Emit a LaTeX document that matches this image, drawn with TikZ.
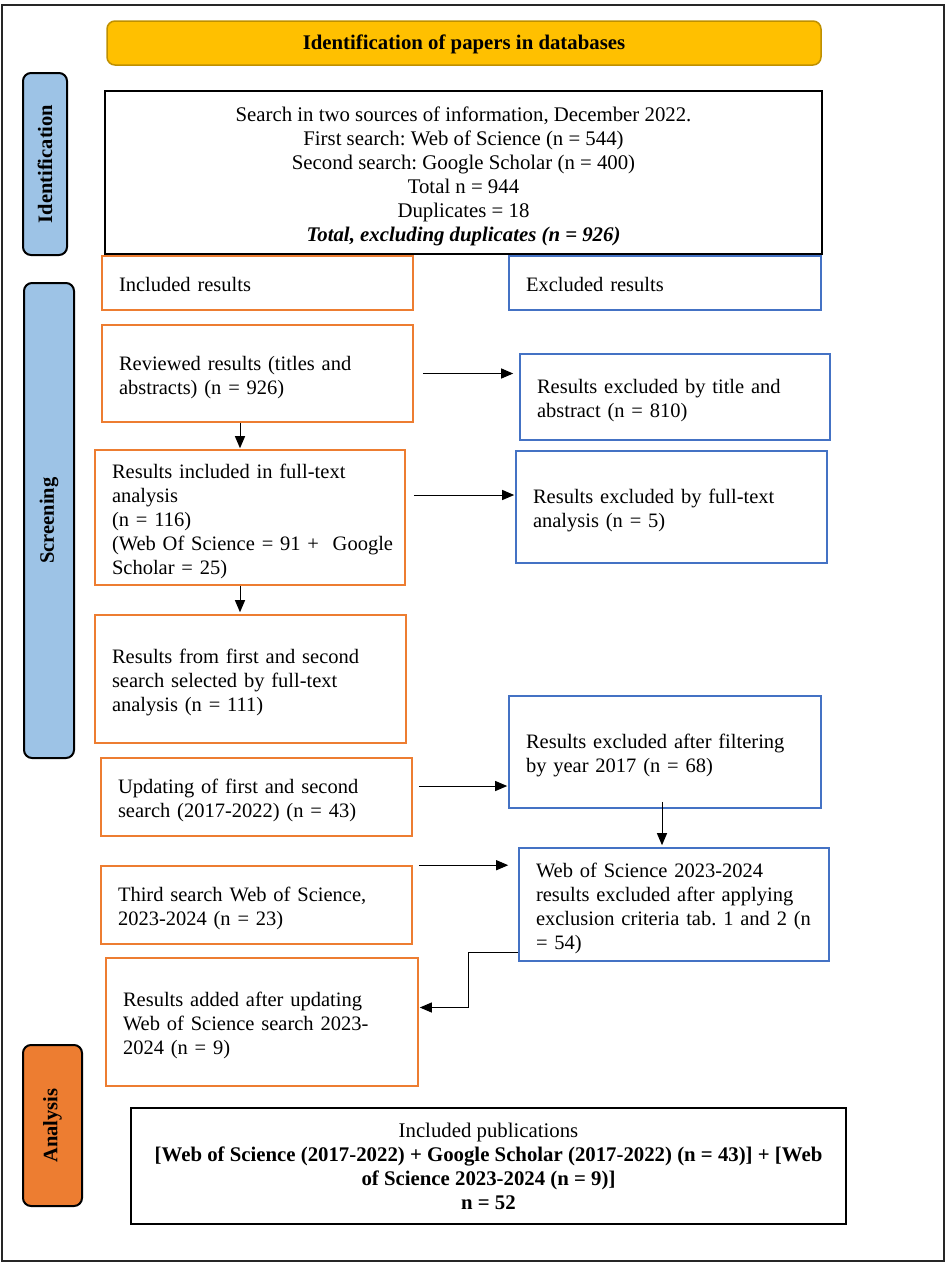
\documentclass[tikz,border=0pt]{standalone}
\usepackage{fontspec}
\setmainfont{Liberation Serif}
\frenchspacing
\usetikzlibrary{arrows.meta}
\definecolor{orng}{HTML}{ED7D31}
\definecolor{blu}{HTML}{4472C4}
\definecolor{lblue}{HTML}{9DC3E6}
\definecolor{hdr}{HTML}{FFC000}
\definecolor{hdrb}{HTML}{BF9000}
\newcommand\bodyfnt{\fontsize{20.8}{24}\selectfont}
\newcommand\boxfnt{\fontsize{20.5}{24}\selectfont}
\newcommand\labfnt{\fontsize{20.5}{24}\selectfont\bfseries}
\newcommand\topstrut{\rule{0pt}{23pt}}
\newcommand\botstrut{\rule[-5pt]{0pt}{5pt}}
\tikzset{
  struts/.style={execute at begin node={\rule{0pt}{22pt}}, execute at end node={\rule[-5pt]{0pt}{0pt}}},
  obox/.style={draw=orng, line width=1.6pt, inner xsep=17pt, inner ysep=0pt, align=left, font=\boxfnt, struts},
  bbox/.style={draw=blu, line width=1.6pt, inner xsep=17pt, inner ysep=0pt, align=left, font=\boxfnt, struts},
  kbox/.style={draw=black, line width=2pt, inner sep=0pt, align=center, font=\bodyfnt},
  sidelab/.style={draw=black, line width=2pt, rounded corners=8pt, rotate=90, inner sep=0pt, font=\labfnt},
  arr/.style={draw=black, line width=1pt, -{Triangle[length=12pt,width=10pt]}},
}
\begin{document}
\begin{tikzpicture}[x=1pt,y=-1pt]
\useasboundingbox (0,0) rectangle (952,1264);
\draw[line width=2pt, draw=black!85] (2,5) rectangle (944,1261);

\node[draw=hdrb, fill=hdr, line width=1.5pt, rounded corners=8pt, minimum width=714pt, minimum height=44pt, inner sep=0pt, text height=18.4pt, text depth=4.5pt, font=\bodyfnt\bfseries] (hdr) at (464,43) {Identification of papers in databases};

\node[sidelab, fill=lblue, minimum width=182pt, minimum height=44pt] (idlab) at (45,164) {Identification};
\node[sidelab, fill=lblue, minimum width=475pt, minimum height=50pt] (scrlab) at (49,520.5) {Screening};
\node[sidelab, fill=orng, minimum width=161pt, minimum height=59pt] (anlab) at (52.5,1125.5) {Analysis};

\node[kbox, minimum width=717pt, minimum height=163pt] (search) at (463.5,172.5) {\topstrut Search in two sources of information, December 2022.\\ First search: Web of Science (n = 544)\\ Second search: Google Scholar (n = 400)\\ Total n = 944\\ Duplicates = 18\\ \textbf{\textit{Total, excluding duplicates (n = 926)}}\botstrut};

\node[obox, text width=277pt, minimum height=54pt] (incl) at (257.5,283) {Included results};
\node[bbox, text width=278pt, minimum height=54pt] (excl) at (665,283) {Excluded results};

\node[obox, text width=277pt, minimum height=97pt] (rev) at (257.5,373.5) {Reviewed results (titles and\\ abstracts) (n = 926)};
\node[bbox, text width=276pt, minimum height=86pt] (exT) at (675,397) {Results excluded by title and\\ abstract (n = 810)};

\node[obox, text width=276pt, minimum height=135pt] (ft) at (250,517.5) {Results included in full-text\\ analysis\\ (n = 116)\\ \mbox{(Web Of Science = 91 +\ \ Google}\\ Scholar = 25)};
\node[bbox, text width=277pt, minimum height=112pt] (exF) at (671.5,507) {Results excluded by full-text\\ analysis (n = 5)};

\node[obox, text width=277pt, minimum height=128pt] (sel) at (250.5,679) {Results from first and second\\ search selected by full-text\\ analysis (n = 111)};

\node[bbox, text width=278pt, minimum height=112pt] (exY) at (665,752) {Results excluded after filtering\\ by year 2017 (n = 68)};
\node[obox, text width=277pt, minimum height=78pt] (upd) at (256.5,797) {Updating of first and second\\ search (2017-2022) (n = 43)};

\node[bbox, text width=276pt, minimum height=113pt] (wos) at (674,904.5) {Web of Science 2023-2024\\ results excluded after applying\\ \mbox{exclusion criteria tab. 1 and 2 (n}\\ = 54)};
\node[obox, text width=277pt, minimum height=78pt] (third) at (256.5,905) {Third search Web of Science,\\ 2023-2024 (n = 23)};

\node[obox, text width=278pt, minimum height=128pt] (added) at (262,1022) {Results added after updating\\ Web of Science search 2023-\\ 2024 (n = 9)};

\node[kbox, minimum width=715pt, minimum height=116pt] (pub) at (488.5,1166) {Included publications\\ \textbf{[Web of Science (2017-2022) + Google Scholar (2017-2022) (n = 43)] + [Web}\\ \textbf{of Science 2023-2024 (n = 9)]}\\ \textbf{n = 52}};

\draw[arr, shorten >=6pt] ([xshift=9pt]rev.east) -- (rev.east -| exT.west);
\draw[arr, shorten >=1pt] ([xshift=-17.5pt]rev.south) -- ([xshift=-17.5pt]rev.south |- ft.north);
\draw[arr, shorten >=1pt] ([xshift=8pt,yshift=22.5pt]ft.east) -- ([yshift=22.5pt]ft.east -| exF.west);
\draw[arr, shorten >=2pt] ([xshift=-10pt]ft.south) -- ([xshift=-10pt]ft.south |- sel.north);
\draw[arr, shorten >=1pt] ([xshift=6pt,yshift=11pt]upd.east) -- ([yshift=11pt]upd.east -| exY.west);
\draw[arr, shorten >=2pt] ([xshift=-3pt,yshift=7pt]exY.south) -- ([xshift=-3pt]exY.south |- wos.north);
\draw[arr, shorten >=10pt] ([xshift=6pt]third.north east) -- (third.north east -| wos.west);
\draw[arr, shorten >=1pt] ([yshift=-47.5pt]wos.west) -- ++(-50,0) |- ([yshift=14.5pt]added.east);
\end{tikzpicture}
\end{document}
